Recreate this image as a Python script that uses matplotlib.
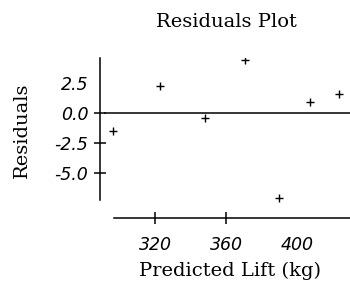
import matplotlib.pyplot as plt

# data
predicted = [296.2, 323.0, 348.2, 370.7, 389.9, 407.3, 423.8]
residuals = [-1.47, 2.22, -0.39, 4.44, -7.06, 0.94, 1.58]
x_ticks = [320, 360, 400]
y_ticks = [2.5, 0.0, -2.5, -5.0]
y_tick_labels = ["2.5", "0.0", "-2.5", "-5.0"]

fig = plt.figure(figsize=(3.5, 2.85), dpi=100)
ax = fig.add_axes([100 / 350, 67 / 285, 250 / 350, 160 / 285])

ax.plot(predicted, residuals, "+", color="black", markersize=6, markeredgewidth=1.0)
ax.axhline(0, xmin=0.02, xmax=1, color="black", lw=1.1)

ax.set_xlim(289.0, 429.9)
ax.set_ylim(-8.75, 4.58)

# spines: detached axes like the reference
for s in ["top", "right"]:
    ax.spines[s].set_visible(False)
ax.spines["left"].set_bounds(-7.25, 4.58)
ax.spines["bottom"].set_bounds(296.9, 429.9)
ax.spines["left"].set_linewidth(1.1)
ax.spines["bottom"].set_linewidth(1.1)

ax.set_yticks(y_ticks)
ax.set_yticklabels(y_tick_labels)
ax.set_xticks(x_ticks)
tick_font = dict(family="DejaVu Sans", style="italic", size=12.5)
for lab in ax.get_xticklabels() + ax.get_yticklabels():
    lab.set_fontproperties(tick_font)
ax.tick_params(axis="y", direction="inout", length=9, width=1.1, pad=4)
ax.tick_params(axis="x", direction="inout", length=8, width=1.1, pad=9)
# the 2.5 tick has no mark in the reference
ax.yaxis.get_major_ticks()[0].tick1line.set_visible(False)
# the 400 tick has no mark either
ax.xaxis.get_major_ticks()[2].tick1line.set_visible(False)

serif = dict(family="DejaVu Serif", size=14)
fig.text(226 / 350, 1 - 22 / 285, "Residuals Plot", ha="center", va="center", **serif)
fig.text(22 / 350, 1 - 130 / 285, "Residuals", ha="center", va="center", rotation=90, **serif)
fig.text(230 / 350, 1 - 271 / 285, "Predicted Lift (kg)", ha="center", va="center", **serif)

fig.savefig("out.png", dpi=100)
